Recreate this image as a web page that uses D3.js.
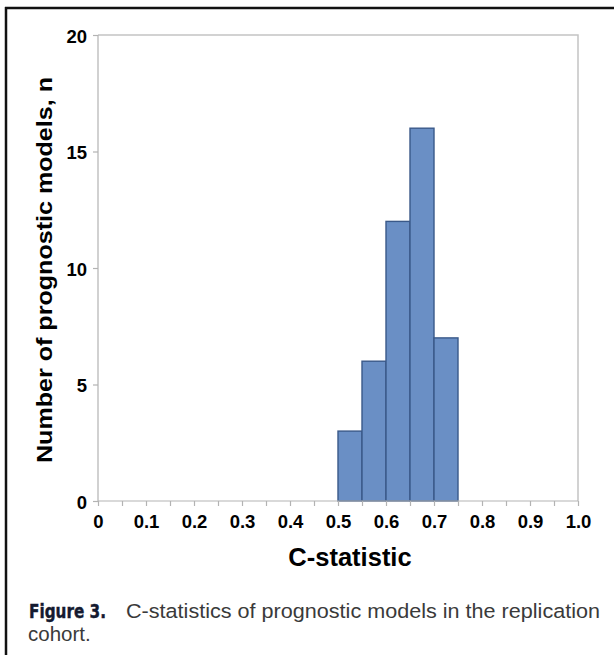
<!DOCTYPE html>
<meta charset="UTF-8">
<html>
<head>
<style>
html, body { margin:0; padding:0; background:#fff; }
svg { display:block; }
.tick text { font-family: Arial, "Liberation Sans", sans-serif; font-weight:bold; font-size:18.5px; fill:#000; }
.axis path, .axis line { stroke:#b3b3b3; stroke-width:1.2; }
</style>
</head>
<body>
<svg width="614" height="655"></svg>
<script src="https://cdn.jsdelivr.net/npm/d3@7"></script>
<script>
// histogram bins (left edge) and counts
var binStarts = [0.50, 0.55, 0.60, 0.65, 0.70];
var counts = [3, 6, 12, 16, 7];
var binWidth = 0.05;
var xTicks = [0, 0.1, 0.2, 0.3, 0.4, 0.5, 0.6, 0.7, 0.8, 0.9, 1.0];
var yTicks = [0, 5, 10, 15, 20];

var svg = d3.select("svg");
var pLeft = 98, pRight = 578, pTop = 35, pBottom = 501;

var x = d3.scaleLinear().domain([0, 1]).range([pLeft, pRight]);
var y = d3.scaleLinear().domain([0, 20]).range([pBottom, pTop]);

// outer frame
svg.append("line").attr("x1", 5).attr("x2", 614).attr("y1", 8).attr("y2", 8)
  .attr("stroke", "#111").attr("stroke-width", 2.5);
svg.append("line").attr("x1", 6).attr("x2", 6).attr("y1", 7).attr("y2", 655)
  .attr("stroke", "#111").attr("stroke-width", 2.5);

// plot frame (top and right)
svg.append("path")
  .attr("d", "M" + pLeft + "," + pTop + "H" + pRight + "V" + pBottom)
  .attr("fill", "none").attr("stroke", "#c4c4c4").attr("stroke-width", 1.5);

// bars
svg.append("g").selectAll("rect")
  .data(binStarts)
  .enter().append("rect")
    .attr("x", function(d) { return x(d); })
    .attr("width", function(d) { return x(d + binWidth) - x(d); })
    .attr("y", function(d, i) { return y(counts[i]); })
    .attr("height", function(d, i) { return y(0) - y(counts[i]); })
    .attr("fill", "#6a8fc5")
    .attr("stroke", "#3a5989")
    .attr("stroke-width", 1.4);

// x axis with minor ticks every 0.05
var xMinor = d3.range(0, 21).map(function(i) { return i * 0.05; });
var xAxis = svg.append("g").attr("class", "axis")
  .attr("transform", "translate(0," + pBottom + ")")
  .call(d3.axisBottom(x).tickValues(xMinor).tickSize(5)
    .tickFormat(function(d) {
      var r = Math.round(d * 100);
      if (r % 10 != 0) return "";
      if (r == 0) return "0";
      if (r == 100) return "1.0";
      return d3.format(".1f")(d);
    }));
xAxis.select(".domain").attr("d", "M" + pLeft + ",0H" + pRight);
xAxis.selectAll(".tick text").attr("y", 27).attr("dy", null);

var yAxis = svg.append("g").attr("class", "axis")
  .attr("transform", "translate(" + pLeft + ",0)")
  .call(d3.axisLeft(y).tickValues(yTicks).tickSize(5).tickPadding(6));
yAxis.select(".domain").attr("d", "M0," + pTop + "V" + pBottom);
yAxis.selectAll(".tick text").attr("dy", "0.4em");

// axis titles
svg.append("text").attr("x", 350).attr("y", 566)
  .attr("text-anchor", "middle")
  .style("font-family", "Arial, 'Liberation Sans', sans-serif")
  .style("font-weight", "bold").style("font-size", "25.5px")
  .text("C-statistic");

svg.append("text")
  .attr("transform", "translate(52,270) rotate(-90)")
  .attr("text-anchor", "middle")
  .attr("textLength", 386).attr("lengthAdjust", "spacingAndGlyphs")
  .style("font-family", "Arial, 'Liberation Sans', sans-serif")
  .style("font-weight", "bold").style("font-size", "21.5px")
  .text("Number of prognostic models, n");

// caption
var cap = svg.append("text").attr("y", 618)
  .style("font-family", "'Liberation Sans', Arial, sans-serif")
  .style("font-size", "20.5px").style("fill", "#3a3a3a");
cap.append("tspan").attr("x", 29)
  .attr("textLength", 77).attr("lengthAdjust", "spacingAndGlyphs")
  .style("font-family", "'Liberation Sans Narrow', 'DejaVu Sans Condensed', sans-serif")
  .style("font-weight", "bold").style("font-size", "19.5px").style("fill", "#141a30")
  .style("stroke", "#141a30").style("stroke-width", 0.4)
  .text("Figure 3.");
cap.append("tspan").attr("x", 126)
  .attr("textLength", 474).attr("lengthAdjust", "spacingAndGlyphs")
  .text("C-statistics of prognostic models in the replication");
svg.append("text").attr("x", 28).attr("y", 641)
  .style("font-family", "'Liberation Sans', Arial, sans-serif")
  .style("font-size", "20.5px").style("fill", "#3a3a3a")
  .text("cohort.");
</script>
</body>
</html>
